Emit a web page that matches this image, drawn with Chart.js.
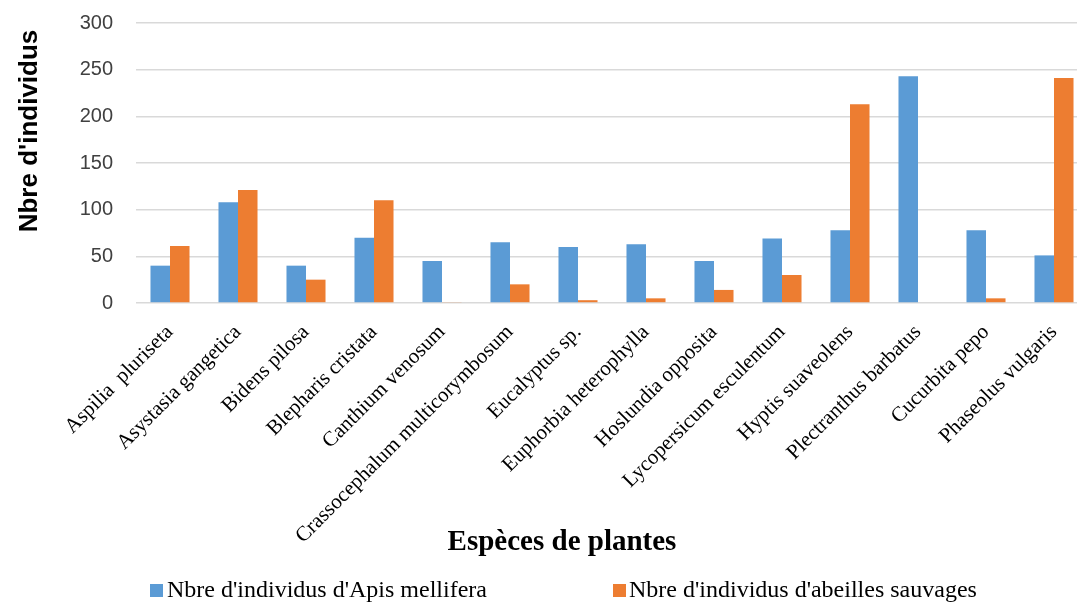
<!DOCTYPE html>
<html><head><meta charset="utf-8">
<script src="https://cdn.jsdelivr.net/npm/chart.js@4"></script>
<style>
html,body{margin:0;padding:0;background:#fff;overflow:hidden;width:1077px;height:602px}
#wrap{width:1092px;height:602px}
</style></head>
<body><div id="wrap"><canvas id="c" width="1092" height="602"></canvas></div>
<script>
const categories = ["Aspilia  pluriseta","Asystasia gangetica","Bidens pilosa","Blepharis cristata","Canthium venosum","Crassocephalum multicorymbosum","Eucalyptus sp.","Euphorbia heterophylla","Hoslundia opposita","Lycopersicum esculentum","Hyptis suaveolens","Plectranthus barbatus","Cucurbita pepo","Phaseolus vulgaris"];
const apisMellifera = [40,108,40,70,45,65,60,63,45,69,78,243,78,51];
const abeillesSauvages = [61,121,25,110,1,20,3,5,14,30,213,0,5,241];
const seriesNames = ["Nbre d'individus d'Apis mellifera","Nbre d'individus d'abeilles sauvages"];
const yMin = 0, yMax = 300, yStep = 50;
const yTitle = "Nbre d'individus";
const xTitle = "Espèces de plantes";

const extraText = {
  id: 'extraText',
  afterDraw(chart) {
    const ctx = chart.ctx;
    ctx.save();
    ctx.fillStyle = '#000';
    // y axis title
    ctx.save();
    ctx.translate(30, 131);
    ctx.rotate(-Math.PI / 2);
    ctx.font = 'bold 26px "Liberation Sans"';
    ctx.textAlign = 'center';
    ctx.textBaseline = 'middle';
    ctx.fillText(yTitle, 0, 0);
    ctx.restore();
    // x axis title
    ctx.font = 'bold 29px "Liberation Serif"';
    ctx.textAlign = 'center';
    ctx.textBaseline = 'alphabetic';
    ctx.fillText(xTitle, 562, 550);
    // legend
    ctx.font = '24px "Liberation Serif"';
    ctx.textAlign = 'left';
    const pos = [{bx:150, tx:167},{bx:613, tx:629}];
    chart.data.datasets.forEach((ds, i) => {
      ctx.fillStyle = ds.backgroundColor;
      ctx.fillRect(pos[i].bx, 584, 13, 13);
      ctx.fillStyle = '#000';
      ctx.fillText(ds.label, pos[i].tx, 597);
    });
    ctx.restore();
  }
};

new Chart(document.getElementById('c'), {
  type: 'bar',
  data: {
    labels: categories,
    datasets: [
      {label: seriesNames[0], data: apisMellifera, backgroundColor: '#5B9BD5', borderWidth: 0},
      {label: seriesNames[1], data: abeillesSauvages, backgroundColor: '#ED7D31', borderWidth: 0}
    ]
  },
  options: {
    responsive: false,
    animation: false,
    devicePixelRatio: 1,
    layout: {padding: {top: 23, left: 12, right: 4, bottom: 0}},
    datasets: {bar: {categoryPercentage: 0.574, barPercentage: 1.0}},
    plugins: {legend: {display: false}, tooltip: {enabled: false}},
    scales: {
      x: {
        grid: {display: false},
        border: {display: false},
        ticks: {autoSkip: false, minRotation: 45, maxRotation: 45, color: '#000',
                font: {family: 'Liberation Serif', size: 21}, padding: 9},
        afterFit(scale) { scale.height = 299; }
      },
      y: {
        min: yMin, max: yMax,
        grid: {color: '#d9d9d9', lineWidth: 1.6, drawTicks: true, tickLength: 20, tickColor: 'rgba(0,0,0,0)'},
        border: {display: false},
        ticks: {stepSize: yStep, color: '#404040', font: {family: 'Liberation Sans', size: 20}, padding: 3},
        afterFit(scale) { scale.width = 124; }
      }
    }
  },
  plugins: [extraText]
});
</script>
</body></html>
